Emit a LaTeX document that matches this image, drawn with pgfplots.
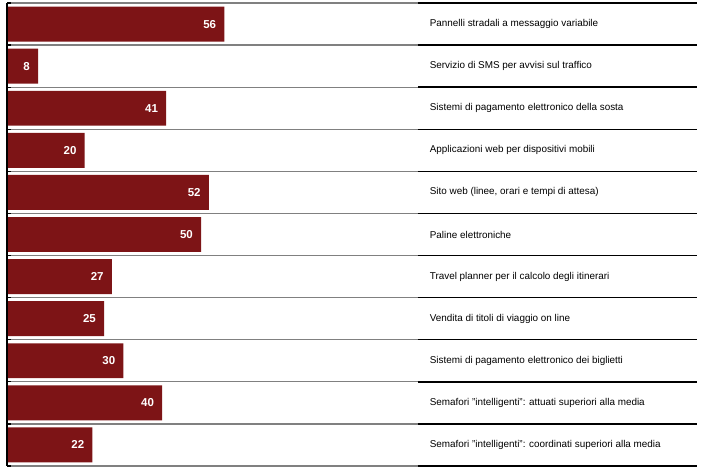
\documentclass[border=0pt]{standalone}
\usepackage{pgfplots}
\pgfplotsset{compat=1.18}
\usepackage{fontspec}
\setmainfont{Liberation Sans}
\definecolor{barred}{RGB}{125,20,22}
\definecolor{sepgray}{RGB}{128,128,128}
\begin{document}
\begin{tikzpicture}
\begin{axis}[
  scale only axis,
  width=690pt, height=463pt,
  xmin=0, xmax=177.8,
  ymin=0.5, ymax=11.5,
  y dir=reverse,
  axis line style={draw=none},
  xtick=\empty, ytick=\empty,
  clip=false,
]
\addplot[xbar, fill=barred, draw=none, bar width=0.83,
  nodes near coords={\textbf{\pgfmathprintnumber[assume math mode=true]{\pgfplotspointmeta}}},
  point meta=x,
  nodes near coords style={anchor=east, text=white, font=\fontsize{11.5}{13}\selectfont, xshift=-8pt, inner sep=0pt}]
coordinates {
(56,1) (8,2) (41,3) (20,4) (52,5) (50,6) (27,7) (25,8) (30,9) (40,10) (22,11)
};
% separators
\foreach \yy in {0.5,1.5,...,11.5}{
  \edef\tmp{\noexpand\draw[sepgray, line width=1.3pt] (axis cs:0,\yy) -- (axis cs:105.9,\yy);
  \noexpand\draw[black, line width=1.3pt] (axis cs:0,\yy) -- (axis cs:1,\yy);
  \noexpand\draw[black, line width=1.4pt] (axis cs:105.9,\yy) -- (axis cs:177.8,\yy);}
  \tmp
}
\draw[black, line width=1.4pt] (axis cs:0,0.5) -- (axis cs:0,11.5);
\begin{scope}[every node/.style={anchor=west, font=\fontsize{9.9}{11}\selectfont, inner sep=0pt}]
\node at (axis cs:108.9,1) {Pannelli stradali a messaggio variabile};
\node at (axis cs:108.9,2) {Servizio di SMS per avvisi sul traffico};
\node at (axis cs:108.9,3) {Sistemi di pagamento elettronico della sosta};
\node at (axis cs:108.9,4) {Applicazioni web per dispositivi mobili};
\node at (axis cs:108.9,5) {Sito web (linee, orari e tempi di attesa)};
\node at (axis cs:108.9,6) {Paline elettroniche};
\node at (axis cs:108.9,7) {Travel planner per il calcolo degli itinerari};
\node at (axis cs:108.9,8) {Vendita di titoli di viaggio on line};
\node at (axis cs:108.9,9) {Sistemi di pagamento elettronico dei biglietti};
\node at (axis cs:108.9,10) {Semafori "intelligenti": attuati superiori alla media};
\node at (axis cs:108.9,11) {Semafori "intelligenti": coordinati superiori alla media};
\end{scope}
\path (rel axis cs:0,0) ++(-7pt,-5pt) coordinate (bbA);
\path (rel axis cs:1,1) ++(7pt,3pt) coordinate (bbB);
\end{axis}
\path (bbA) rectangle (bbB);
\end{tikzpicture}
\end{document}
